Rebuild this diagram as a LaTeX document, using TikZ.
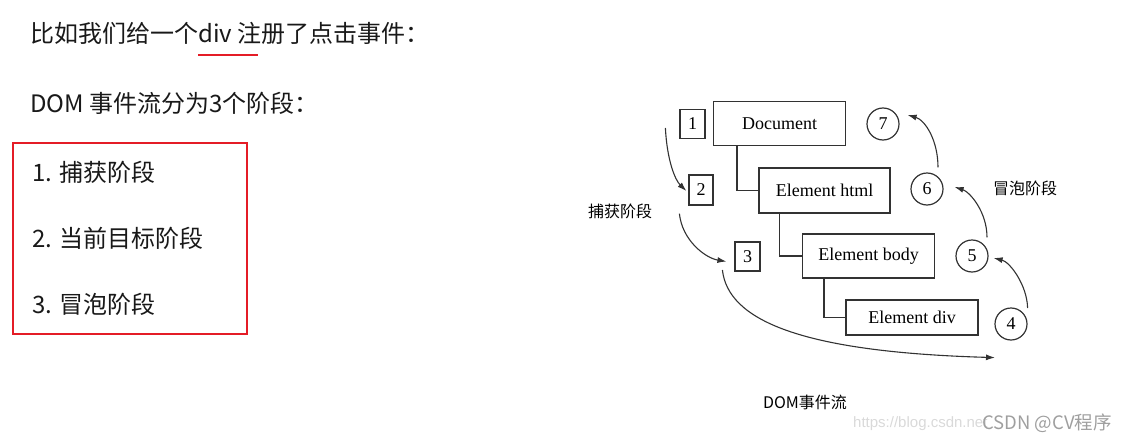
\documentclass[tikz,border=0pt]{standalone}
\usepackage{fontspec}
\setmainfont{Liberation Serif}
\newfontfamily\cjk{Noto Sans CJK SC}
\newfontfamily\wmark{Liberation Sans}
\usetikzlibrary{arrows.meta}
\definecolor{boxline}{RGB}{50,50,50}
\definecolor{markred}{RGB}{228,28,38}
\definecolor{txtgray}{RGB}{25,25,25}

\begin{document}
\begin{tikzpicture}[x=1pt, y=-1pt,
para/.style={anchor=west, inner sep=0pt, text=txtgray, font=\cjk\fontsize{24}{28}\selectfont},
stage/.style={draw=boxline, line width=1.2pt, minimum width=25pt, minimum height=29pt, inner sep=0pt, font=\fontsize{18}{20}\selectfont},
elem/.style={draw=boxline, line width=1.2pt, minimum width=132pt, minimum height=44pt, inner sep=0pt, font=\fontsize{18}{20}\selectfont},
bubble/.style={circle, draw=boxline, line width=1.2pt, minimum size=32pt, inner sep=0pt, font=\fontsize{18}{20}\selectfont},
flow/.style={boxline, line width=1.1pt, -{Latex[length=9pt,width=6pt]}},
tree/.style={boxline, line width=1.2pt},
note/.style={inner sep=0pt, font=\cjk\fontsize{16}{18}\selectfont},
]
\useasboundingbox (0,0) rectangle (1131,441);

%Text
\node[para] (intro) at (30,33) {比如我们给一个div 注册了点击事件：};
\draw[markred, line width=1.6pt] (198,55) -- (258,55);
\node[para] (phases) at (30,103) {DOM 事件流分为3个阶段：};
\draw[markred, line width=1.6pt] (13,143) rectangle (247,334);
\node[para] (p1) at (32,172) {1. 捕获阶段};
\node[para] (p2) at (32,238) {2. 当前目标阶段};
\node[para] (p3) at (32,304) {3. 冒泡阶段};

%Tree
\node[elem] (doc) at (779.5,123.5) {Document};
\node[elem, minimum width=131pt, minimum height=45pt] (html) at (824.5,190.5) {Element html};
\node[elem] (body) at (868.5,256) {Element body};
\node[elem, minimum height=35pt] (div) at (912,317.5) {Element div};

\draw[tree] ([xshift=24pt]doc.south west) |- (html.west);
\draw[tree] ([xshift=21pt]html.south west) |- (body.west);
\draw[tree] ([xshift=22pt]body.south west) |- (div.west);

%Capture
\node[stage] (n1) at (692.5,124) {1};
\node[stage, minimum width=24pt, minimum height=30pt] (n2) at (701,190) {2};
\node[stage] (n3) at (747.5,256.5) {3};

%Bubble
\node[bubble] (c4) at (1011,324) {4};
\node[bubble] (c5) at (972,256) {5};
\node[bubble] (c6) at (927,189) {6};
\node[bubble] (c7) at (883,124) {7};

%Arrows
\draw[flow] ([xshift=-14pt, yshift=-4pt]n1.west) .. controls (667,160) and (675,180) .. ([xshift=-2pt, yshift=-1pt]n2.west);
\draw[flow] ([xshift=-9pt, yshift=-8pt]n2.south west) .. controls (682,240) and (705,258) .. ([xshift=-8pt, yshift=-5pt]n3.west);
\draw[flow] ([xshift=-12pt, yshift=-13.5pt]n3.west) .. controls (728,320) and (800,352) .. ([xshift=-16pt, yshift=-17pt]c4.south);
\draw[flow] ([yshift=16pt]c4.east) .. controls (1027,285) and (1010,262) .. ([xshift=5pt, yshift=-2pt]c5.east);
\draw[flow] ([xshift=15pt, yshift=2pt]c5.north) .. controls (987,212) and (970,192) .. ([xshift=11pt, yshift=2pt]c6.east);
\draw[flow] ([xshift=11pt, yshift=5pt]c6.north) .. controls (938,140) and (925,120) .. ([xshift=8pt, yshift=9pt]c7.east);

%Labels
\node[note] (capture) at (620,211) {捕获阶段};
\node[note] (bubbling) at (1025,188) {冒泡阶段};
\node[note] (title) at (805,402) {DOM事件流};

%Watermark
\node[inner sep=0pt, anchor=west, text=gray!30, font=\wmark\fontsize{15}{17}\selectfont] (url) at (853,424) {https://blog.csdn.net};
\node[inner sep=0pt, anchor=west, text=gray!75, font=\cjk\fontsize{18.5}{20}\selectfont] (mark) at (982,423) {CSDN @CV程序};
\end{tikzpicture}
\end{document}
